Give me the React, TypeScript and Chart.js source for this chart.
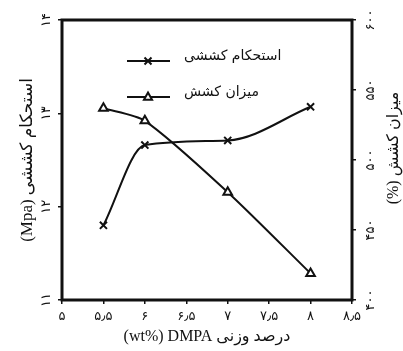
import { useEffect, useRef } from 'react';
import { Chart, registerables } from 'chart.js';

Chart.register(...registerables);

// DMPA content (wt%) and the measured properties
const dmpa = [5.5, 6, 7, 8];
const tensileStrength = [11.8, 12.66, 12.71, 13.07]; // Mpa
const elongation = [537, 528, 477, 419]; // %

const xTicks = [5, 5.5, 6, 6.5, 7, 7.5, 8, 8.5];
const xTickLabels = ['۵', '۵٫۵', '۶', '۶٫۵', '۷', '۷٫۵', '۸', '۸٫۵'];
const strengthTicks = [11, 12, 13, 14];
const strengthTickLabels = ['۱۱', '۱۲', '۱۳', '۱۴'];
const elongTicks = [400, 450, 500, 550, 600];
const elongTickLabels = ['۴۰۰', '۴۵۰', '۵۰۰', '۵۵۰', '۶۰۰'];

const seriesNames = ['استحکام کششی', 'میزان کشش'];
const xTitle = '(wt%) DMPA درصد وزنی';
const leftTitle = '(Mpa) استحکام کششی';
const rightTitle = '(%) میزان کشش';

const INK = '#111';
const FONT = '"Liberation Serif", "DejaVu Sans", serif';
const ARABIC_FONT = '"DejaVu Sans", "Liberation Serif", serif';

function drawCross(ctx: CanvasRenderingContext2D, x: number, y: number, r: number) {
  ctx.beginPath();
  ctx.moveTo(x - r, y - r);
  ctx.lineTo(x + r, y + r);
  ctx.moveTo(x + r, y - r);
  ctx.lineTo(x - r, y + r);
  ctx.stroke();
}

function drawTriangle(ctx: CanvasRenderingContext2D, x: number, y: number, r: number) {
  ctx.beginPath();
  ctx.moveTo(x, y - r);
  ctx.lineTo(x + r * 0.9, y + r * 0.6);
  ctx.lineTo(x - r * 0.9, y + r * 0.6);
  ctx.closePath();
  ctx.fillStyle = '#fff';
  ctx.fill();
  ctx.stroke();
}

const decorations = {
  id: 'decorations',
  beforeDatasetsDraw(chart: any) {
    const { ctx, chartArea } = chart;
    ctx.save();
    ctx.strokeStyle = INK;
    ctx.lineWidth = 3;
    ctx.strokeRect(chartArea.left, chartArea.top, chartArea.right - chartArea.left, chartArea.bottom - chartArea.top);
    ctx.restore();
  },
  afterDraw(chart: any) {
    const { ctx, chartArea } = chart;
    const xs = chart.scales.x;
    const yl = chart.scales.y;
    const yr = chart.scales.y1;
    ctx.save();
    ctx.fillStyle = INK;
    ctx.strokeStyle = INK;

    // x tick labels
    ctx.font = `13px ${ARABIC_FONT}`;
    ctx.textAlign = 'center';
    ctx.textBaseline = 'middle';
    xTicks.forEach((v, i) => {
      ctx.fillText(xTickLabels[i], xs.getPixelForValue(v), chartArea.bottom + 17);
    });

    // rotated y tick labels
    const rotLabel = (text: string, x: number, y: number) => {
      ctx.save();
      ctx.translate(x, y);
      ctx.rotate(-Math.PI / 2);
      ctx.fillText(text, 0, 0);
      ctx.restore();
    };
    strengthTicks.forEach((v, i) => rotLabel(strengthTickLabels[i], chartArea.left - 15, yl.getPixelForValue(v)));
    elongTicks.forEach((v, i) => rotLabel(elongTickLabels[i], chartArea.right + 19, yr.getPixelForValue(v)));

    // axis titles
    ctx.font = `16px ${FONT}`;
    ctx.fillText(xTitle, (chartArea.left + chartArea.right) / 2, chartArea.bottom + 37);
    ctx.font = `17px ${FONT}`;
    rotLabel(leftTitle, 28, (chartArea.top + chartArea.bottom) / 2);
    ctx.font = `16px ${FONT}`;
    rotLabel(rightTitle, 394, (chartArea.top + chartArea.bottom) / 2 - 12);

    // legend
    ctx.lineWidth = 2;
    const legendRows = [58, 94];
    legendRows.forEach((ly, i) => {
      ctx.beginPath();
      ctx.moveTo(127, ly + 3);
      ctx.lineTo(170, ly + 3);
      ctx.stroke();
      if (i === 0) drawCross(ctx, 148, ly + 3, 3.5);
      else drawTriangle(ctx, 148, ly + 3, 4.5);
      ctx.fillStyle = INK;
      ctx.font = `14px ${ARABIC_FONT}`;
      ctx.textAlign = 'left';
      ctx.fillText(seriesNames[i], 184, ly - 2);
    });
    ctx.restore();
  },
};

export default function App() {
  const ref = useRef<HTMLCanvasElement | null>(null);

  useEffect(() => {
    if (!ref.current) return;
    const zeroWidth = (s: any) => { s.width = 0; };
    const chart = new Chart(ref.current, {
      type: 'line',
      data: {
        datasets: [
          {
            label: seriesNames[0],
            data: dmpa.map((x, i) => ({ x, y: tensileStrength[i] })),
            yAxisID: 'y',
            borderColor: INK,
            borderWidth: 2,
            cubicInterpolationMode: 'monotone',
            pointStyle: 'crossRot',
            pointRadius: 5,
            pointBorderWidth: 2,
            pointBorderColor: INK,
            pointBackgroundColor: INK,
          },
          {
            label: seriesNames[1],
            data: dmpa.map((x, i) => ({ x, y: elongation[i] })),
            yAxisID: 'y1',
            borderColor: INK,
            borderWidth: 2,
            tension: 0.25,
            pointStyle: 'triangle',
            pointRadius: 5,
            pointBorderWidth: 2,
            pointBorderColor: INK,
            pointBackgroundColor: '#fff',
          },
        ],
      },
      options: {
        animation: false,
        responsive: true,
        maintainAspectRatio: false,
        layout: { padding: { left: 62, right: 51, top: 20, bottom: 51 } },
        plugins: { legend: { display: false }, tooltip: { enabled: false } },
        scales: {
          x: {
            type: 'linear',
            min: 5,
            max: 8.5,
            afterBuildTicks: (s: any) => { s.ticks = xTicks.map((value) => ({ value })); },
            afterFit: (s: any) => { s.height = 0; },
            ticks: { display: false },
            grid: { drawOnChartArea: false, tickLength: 4, color: INK, lineWidth: 1.5 },
            border: { display: false },
          },
          y: {
            position: 'left',
            min: 11,
            max: 14,
            afterBuildTicks: (s: any) => { s.ticks = strengthTicks.map((value) => ({ value })); },
            afterFit: zeroWidth,
            ticks: { display: false },
            grid: { drawOnChartArea: false, tickLength: 4, color: INK, lineWidth: 1.5 },
            border: { display: false },
          },
          y1: {
            position: 'right',
            min: 400,
            max: 600,
            afterBuildTicks: (s: any) => { s.ticks = elongTicks.map((value) => ({ value })); },
            afterFit: zeroWidth,
            ticks: { display: false },
            grid: { drawOnChartArea: false, tickLength: 4, color: INK, lineWidth: 1.5 },
            border: { display: false },
          },
        },
      },
      plugins: [decorations],
    });
    return () => chart.destroy();
  }, []);

  return (
    <div style={{ position: 'fixed', left: 0, top: 0, width: 403, height: 351, background: '#fff' }}>
      <canvas ref={ref} />
    </div>
  );
}
